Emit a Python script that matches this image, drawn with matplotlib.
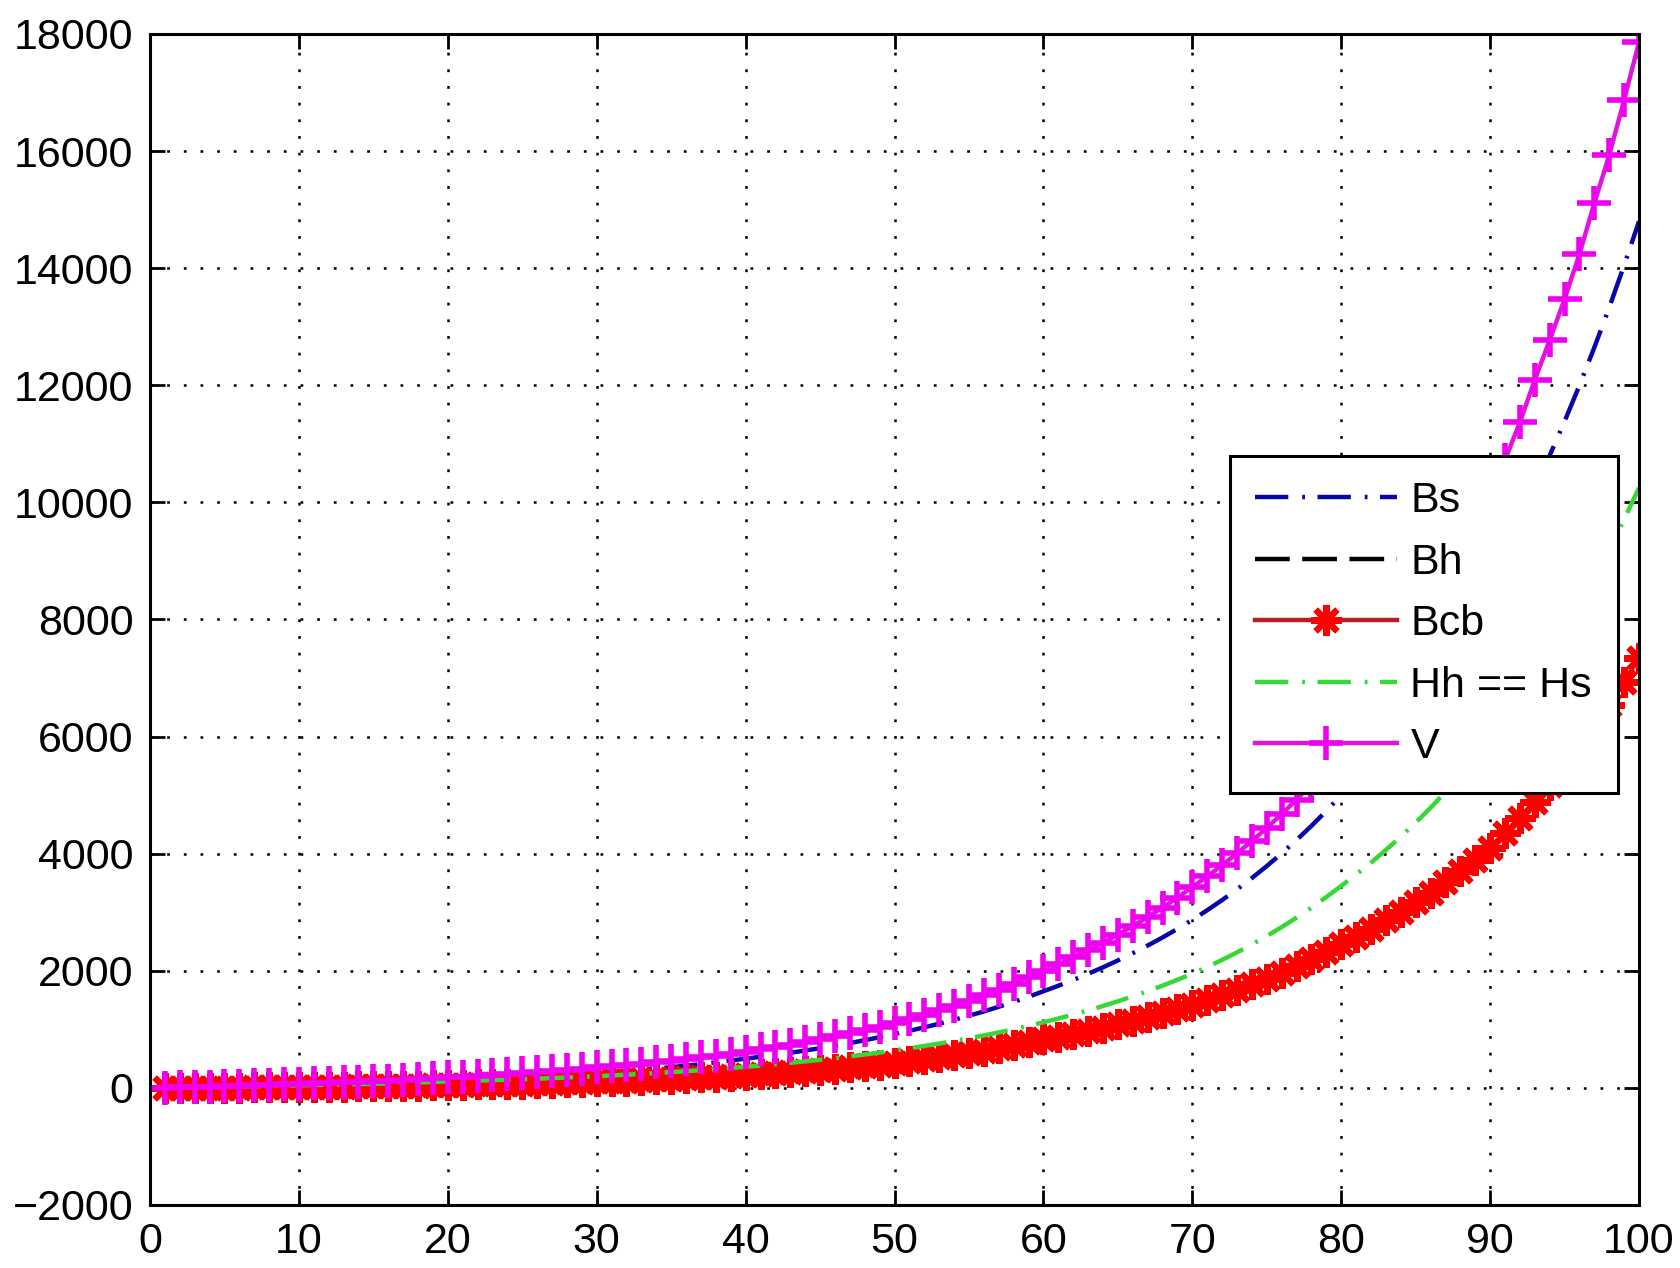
import matplotlib

matplotlib.use("Agg")
import matplotlib.pyplot as plt
import numpy as np

x_values = np.arange(1, 101)

bs_values = [
    3, 6, 9, 13, 17, 21, 25, 30, 35, 40,
    44, 49, 54, 60, 66, 73, 81, 90, 99, 110,
    119, 130, 141, 153, 166, 180, 196, 212, 230, 250,
    268, 287, 308, 330, 354, 379, 406, 435, 467, 500,
    531, 565, 600, 638, 678, 721, 766, 814, 866, 920,
    975, 1034, 1096, 1162, 1232, 1306, 1385, 1468, 1556, 1650,
    1744, 1843, 1948, 2059, 2176, 2300, 2431, 2569, 2715, 2870,
    3034, 3207, 3390, 3584, 3788, 4005, 4233, 4475, 4730, 5000,
    5288, 5593, 5915, 6256, 6616, 6997, 7400, 7826, 8277, 8750,
    9223, 9721, 10246, 10800, 11383, 11998, 12646, 13329, 14049, 14800,
]

bcb_values = [
    0, 1, 2, 3, 5, 6, 8, 10, 12, 15,
    17, 19, 21, 24, 27, 31, 35, 39, 44, 50,
    54, 59, 63, 69, 74, 80, 87, 94, 102, 110,
    118, 126, 135, 145, 156, 167, 179, 192, 205, 220,
    235, 251, 268, 286, 306, 327, 349, 373, 398, 425,
    454, 486, 520, 555, 594, 635, 679, 726, 776, 830,
    876, 924, 975, 1029, 1086, 1146, 1209, 1276, 1346, 1420,
    1500, 1584, 1672, 1766, 1865, 1969, 2080, 2196, 2319, 2450,
    2579, 2716, 2859, 3010, 3169, 3336, 3512, 3698, 3893, 4100,
    4346, 4608, 4885, 5178, 5489, 5819, 6169, 6540, 6933, 7350,
]

# Bh lies exactly under Bcb in the original figure
bh_values = list(bcb_values)

hh_values = [
    3, 6, 9, 13, 17, 22, 27, 33, 39, 45,
    49, 54, 59, 64, 70, 77, 84, 92, 101, 110,
    117, 124, 132, 140, 148, 157, 167, 177, 188, 200,
    212, 225, 239, 253, 269, 285, 302, 321, 340, 360,
    381, 404, 428, 453, 480, 508, 538, 570, 604, 640,
    677, 716, 757, 801, 847, 896, 947, 1002, 1059, 1120,
    1184, 1252, 1323, 1399, 1479, 1563, 1652, 1746, 1846, 1950,
    2064, 2186, 2314, 2450, 2594, 2746, 2907, 3078, 3259, 3450,
    3643, 3847, 4063, 4290, 4531, 4784, 5052, 5335, 5634, 5950,
    6283, 6634, 7005, 7397, 7810, 8247, 8708, 9195, 9709, 10250,
]

v_values = [
    5, 10, 15, 22, 29, 36, 44, 52, 61, 70,
    77, 85, 93, 102, 112, 123, 136, 149, 164, 180,
    192, 206, 220, 235, 251, 268, 287, 306, 327, 350,
    371, 392, 415, 440, 466, 493, 522, 553, 586, 620,
    657, 697, 739, 783, 830, 880, 933, 989, 1048, 1110,
    1177, 1249, 1325, 1405, 1490, 1581, 1677, 1779, 1886, 2000,
    2111, 2228, 2351, 2481, 2619, 2764, 2917, 3079, 3249, 3430,
    3612, 3803, 4005, 4217, 4440, 4676, 4923, 5184, 5459, 5750,
    6082, 6433, 6804, 7197, 7612, 8051, 8516, 9008, 9528, 10080,
    10720, 11370, 12090, 12770, 13470, 14240, 15110, 15930, 16870, 17860,
]

x_ticks = list(range(0, 101, 10))
y_ticks = list(range(-2000, 18001, 2000))


def main() -> None:
    plt.rcParams["font.family"] = ["Liberation Sans", "DejaVu Sans"]
    plt.rcParams["lines.scale_dashes"] = False

    figure = plt.figure(figsize=(16.8, 12.68), dpi=100)
    axis = figure.add_axes([0.0893, 0.0497, 0.8863, 0.9235])

    axis.plot(
        x_values, bs_values,
        color="#0808a8", linewidth=3.2,
        linestyle=(0, (24, 10, 2, 9)),
        label="Bs",
    )
    axis.plot(
        x_values, bh_values,
        color="black", linewidth=3.2,
        linestyle=(0, (25, 9)),
        label="Bh",
    )
    axis.plot(
        x_values, bcb_values,
        color="#b82020", linewidth=3.2,
        marker=(8, 2, 0), markersize=22,
        markeredgewidth=4.5,
        markeredgecolor="#ff0000", markerfacecolor="#ff0000",
        label="Bcb",
    )
    axis.plot(
        x_values, hh_values,
        color="#36d836", linewidth=3.2,
        linestyle=(0, (24, 10, 2, 9)),
        label="Hh == Hs",
    )
    axis.plot(
        x_values, v_values,
        color="#e014e0", linewidth=3.2,
        marker="+", markersize=24,
        markeredgewidth=4,
        markeredgecolor="#f000f0",
        label="V",
    )

    axis.set_xlim(0, 100)
    axis.set_ylim(-2000, 18000)
    axis.set_xticks(x_ticks)
    axis.set_yticks(y_ticks)

    axis.grid(
        True, color="black", linewidth=1.8,
        linestyle=(0, (2, 10)),
    )
    axis.tick_params(
        direction="in", length=11, width=2,
        top=True, right=True, labelsize=31, pad=12,
    )
    for spine in axis.spines.values():
        spine.set_linewidth(2.2)

    legend = axis.legend(
        loc="upper left",
        bbox_to_anchor=(0.725, 0.640),
        fontsize=31,
        frameon=True,
        fancybox=False,
        framealpha=1,
        edgecolor="black",
        handlelength=3.3,
        handletextpad=0.3,
        labelspacing=0.5,
        borderpad=0.6,
        borderaxespad=0,
    )
    legend.get_frame().set_linewidth(2.2)

    figure.savefig("out.png", dpi=100)


if __name__ == "__main__":
    main()
